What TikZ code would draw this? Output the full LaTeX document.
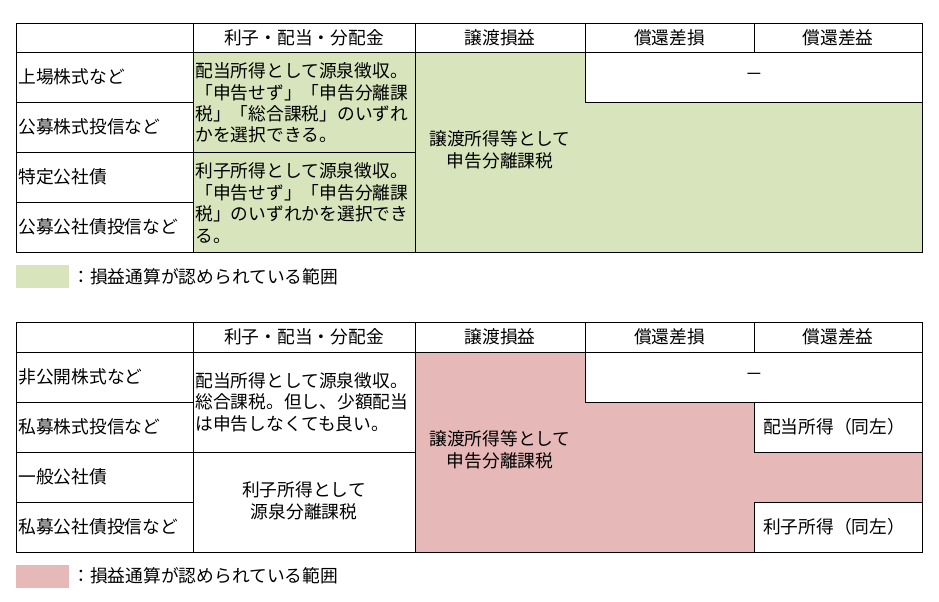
\documentclass[tikz,border=0pt]{standalone}
\usepackage{fontspec}
\setmainfont{Noto Sans CJK JP}
\begin{document}
\begin{tikzpicture}[x=0.75pt,y=0.75pt,yscale=-1,xscale=1,line width=0.75pt,
  txt/.style={inner sep=0pt,font=\fontsize{13.3}{16.1}\selectfont},
  lefttxt/.style={txt,anchor=west,align=left},
  midtxt/.style={txt,align=center},
  greenarea/.style={fill={rgb, 255:red, 216; green, 228; blue, 188 }},
  pinkarea/.style={fill={rgb, 255:red, 230; green, 184; blue, 183 }}]
\useasboundingbox (0,0) rectangle (939,601);

%Shape: Rectangle [top table, green area]
\fill [greenarea] (193,52) rectangle (922,252);
\fill [white] (585,52) rectangle (922,102);
%Straight Lines [top table]
\draw (16,23) rectangle (922,252);
\draw (16,52) -- (922,52);
\draw (193,23) -- (193,252);
\draw (415,23) -- (415,252);
\draw (585,23) -- (585,102) -- (922,102);
\draw (754,23) -- (754,52);
\draw (16,102) -- (193,102);
\draw (16,152) -- (415,152);
\draw (16,202) -- (193,202);

% Text Node
\draw (304,37.5) node [midtxt] (topHdrA) {利子・配当・分配金};
% Text Node
\draw (500,37.5) node [midtxt] (topHdrB) {譲渡損益};
% Text Node
\draw (669.5,37.5) node [midtxt] (topHdrC) {償還差損};
% Text Node
\draw (838,37.5) node [midtxt] (topHdrD) {償還差益};
% Text Node
\draw (18,77) node [lefttxt] (topRowA) {上場株式など};
% Text Node
\draw (18,127) node [lefttxt] (topRowB) {公募株式投信など};
% Text Node
\draw (18,177) node [lefttxt] (topRowC) {特定公社債};
% Text Node
\draw (18,227) node [lefttxt] (topRowD) {公募公社債投信など};
% Text Node
\draw (195,103) node [lefttxt] (topHaito) {配当所得として源泉徴収。\\「申告せず」「申告分離課\\税」「総合課税」のいずれ\\かを選択できる。};
% Text Node
\draw (195,203) node [lefttxt] (topRishi) {利子所得として源泉徴収。\\「申告せず」「申告分離課\\税」のいずれかを選択でき\\る。};
% Text Node
\draw (500,150) node [midtxt] (topJoto) {譲渡所得等として\\申告分離課税};
% Text Node
\draw (754,77) node [midtxt] (topNone) {－};

%Shape: Rectangle [top key]
\fill [greenarea] (16,265) rectangle (69,288);
% Text Node
\draw (72,277) node [lefttxt] (topKey) {：損益通算が認められている範囲};

%Shape: Rectangle [bottom table, pink area]
\fill [pinkarea] (415,352) rectangle (585,552);
\fill [pinkarea] (585,402) rectangle (754,552);
\fill [pinkarea] (754,452) rectangle (922,502);
%Straight Lines [bottom table]
\draw (16,322) rectangle (922,552);
\draw (16,352) -- (922,352);
\draw (193,322) -- (193,552);
\draw (415,322) -- (415,552);
\draw (585,322) -- (585,402);
\draw (754,322) -- (754,352);
\draw (754,402) -- (754,452) -- (922,452);
\draw (754,552) -- (754,502) -- (922,502);
\draw (16,402) -- (193,402);
\draw (585,402) -- (922,402);
\draw (16,452) -- (415,452);
\draw (16,502) -- (193,502);

% Text Node
\draw (304,336.5) node [midtxt] (botHdrA) {利子・配当・分配金};
% Text Node
\draw (500,336.5) node [midtxt] (botHdrB) {譲渡損益};
% Text Node
\draw (669.5,336.5) node [midtxt] (botHdrC) {償還差損};
% Text Node
\draw (838,336.5) node [midtxt] (botHdrD) {償還差益};
% Text Node
\draw (18,377) node [lefttxt] (botRowA) {非公開株式など};
% Text Node
\draw (18,427) node [lefttxt] (botRowB) {私募株式投信など};
% Text Node
\draw (18,477) node [lefttxt] (botRowC) {一般公社債};
% Text Node
\draw (18,527) node [lefttxt] (botRowD) {私募公社債投信など};
% Text Node
\draw (195,402) node [lefttxt] (botHaito) {配当所得として源泉徴収。\\総合課税。但し、少額配当\\は申告しなくても良い。};
% Text Node
\draw (304,501) node [midtxt] (botRishi) {利子所得として\\源泉分離課税};
% Text Node
\draw (500,450) node [midtxt] (botJoto) {譲渡所得等として\\申告分離課税};
% Text Node
\draw (754,377) node [midtxt] (botNone) {－};
% Text Node
\draw (834,427) node [midtxt] (botHaitoSame) {配当所得（同左）};
% Text Node
\draw (834,527) node [midtxt] (botRishiSame) {利子所得（同左）};

%Shape: Rectangle [bottom key]
\fill [pinkarea] (16,565) rectangle (69,588);
% Text Node
\draw (72,576) node [lefttxt] (botKey) {：損益通算が認められている範囲};

\end{tikzpicture}
\end{document}
